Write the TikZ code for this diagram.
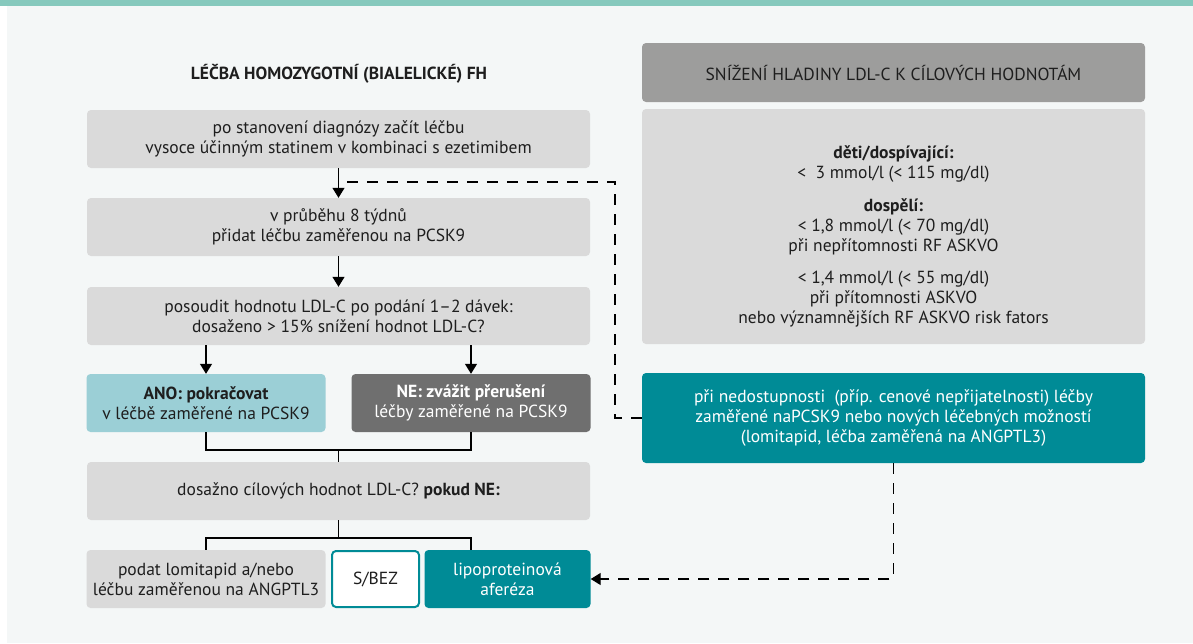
\documentclass[tikz,border=0pt]{standalone}
\usepackage{fontspec}
\setmainfont{PT Sans}
\usetikzlibrary{arrows.meta}
\definecolor{topbar}{HTML}{86C9BD}
\definecolor{bgc}{HTML}{F4F7F7}
\definecolor{gboxc}{HTML}{DADADA}
\definecolor{hdrc}{HTML}{9D9D9C}
\definecolor{nec}{HTML}{6F6F6F}
\definecolor{anoc}{HTML}{9BCFD6}
\definecolor{tealc}{HTML}{008B96}
\definecolor{txtc}{HTML}{1E1E1E}
\begin{document}
\begin{tikzpicture}[x=1pt,y=-1pt,
  basebox/.style={rounded corners=4pt, align=center, inner sep=0pt, minimum height=58pt,
    font={\fontsize{17.5}{20}\selectfont}, text=txtc},
  gbox/.style={basebox, fill=gboxc, minimum width=503pt},
  smallbox/.style={basebox, minimum width=239pt},
  conn/.style={line width=1.3pt, draw=black},
  arr/.style={conn, -{Triangle[width=12pt,length=10pt]}},
  dashline/.style={conn, dash pattern=on 11pt off 9pt}
]
\useasboundingbox (0,0) rectangle (1193,643);
\fill[white] (0,0) rectangle (1193,643);
\fill[bgc] (7,6) rectangle (1193,643);
\fill[topbar] (0,0) rectangle (1193,6);

% left column
\node[font={\fontsize{17.5}{20}\selectfont\bfseries}, text=txtc] (title) at (339,74) {LÉČBA HOMOZYGOTNÍ (BIALELICKÉ) FH};
\node[gbox] (b1) at (338.5,139) {po stanovení diagnózy začít léčbu\\vysoce účinným statinem v kombinaci s ezetimibem};
\node[gbox] (b2) at (338.5,227) {v průběhu 8 týdnů\\přidat léčbu zaměřenou na PCSK9};
\node[gbox] (b3) at (338.5,316) {posoudit hodnotu LDL-C po podání 1–2 dávek:\\dosaženo > 15\% snížení hodnot LDL-C?};
\node[smallbox, fill=anoc] (ano) at (206,403) {\textbf{ANO: pokračovat}\\v léčbě zaměřené na PCSK9};
\node[smallbox, fill=nec, text=white] (ne) at (471,403) {\textbf{NE: zvážit přerušení}\\léčby zaměřené na PCSK9};
\node[gbox] (b4) at (338.5,491) {dosažno cílových hodnot LDL-C? \textbf{pokud NE:}};
\node[smallbox, fill=gboxc] (lomi) at (206,579) {podat lomitapid a/nebo\\léčbu zaměřenou na ANGPTL3};
\node[basebox, draw=tealc, line width=2pt, fill=white, minimum width=87pt, minimum height=56pt] (sbez) at (375.5,579) {S/BEZ};
\node[basebox, fill=tealc, text=white, minimum width=166pt] (afer) at (507.5,579) {lipoproteinová\\aferéza};

% right column
\node[basebox, fill=hdrc, minimum width=503pt, minimum height=59pt] (hdr) at (893.5,72.5) {SNÍŽENÍ HLADINY LDL-C K CÍLOVÝCH HODNOTÁM};
\node[gbox, minimum height=235pt] (goal) at (893.5,226.5) {};
\node[basebox, text=txtc] (goaltxt) at (893.5,236) {\textbf{děti/dospívající:}\\<\ \ 3 mmol/l (< 115 mg/dl)\\[13pt]\textbf{dospělí:}\\< 1,8 mmol/l (< 70 mg/dl)\\při nepřítomnosti RF ASKVO\\[12pt]< 1,4 mmol/l (< 55 mg/dl)\\při přítomnosti ASKVO\\nebo významnějších RF ASKVO risk fators};
\node[basebox, fill=tealc, text=white, minimum width=503pt, minimum height=90pt] (avail) at (893.5,418) {při nedostupnosti\ \ (příp. cenové nepřijatelnosti) léčby\\zaměřené naPCSK9 nebo nových léčebných možností\\(lomitapid, léčba zaměřená na ANGPTL3)};

% connectors
\draw[arr] (b1.south) -- (b2.north);
\draw[arr] (b2.south) -- (b3.north);
\draw[arr] (b3.south -| ano.north) -- (ano.north);
\draw[arr] (b3.south -| ne.north) -- (ne.north);
\coordinate (j1) at (338.5,450);
\draw[conn] (ano.south) |- (j1) -| (ne.south);
\draw[conn] (j1) -- (b4.north);
\coordinate (j2) at (338.5,538);
\draw[conn] (b4.south) -- (j2);
\draw[conn] (lomi.north) |- (j2) -| (afer.north -| ne.south);
\coordinate (d1) at (615,182);
\draw[dashline] (avail.west) -| (d1) -- (d1 -| b1.south);
\draw[dashline, -{Triangle[width=12pt,length=10pt]}] (avail.south) |- (afer.east);
\end{tikzpicture}
\end{document}
